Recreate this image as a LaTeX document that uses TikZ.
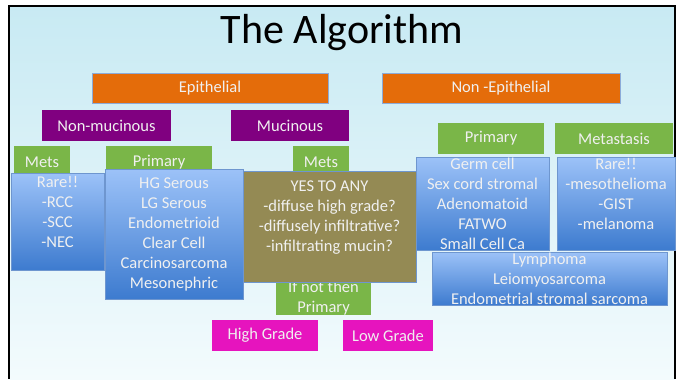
\documentclass[tikz,border=0pt]{standalone}
\usepackage{fontspec}
\setmainfont{Carlito}

\definecolor{slidetop}{HTML}{C8EAF3}
\definecolor{slidebottom}{HTML}{F3FBFD}
\definecolor{boxorange}{HTML}{E46C0A}
\definecolor{boxpurple}{HTML}{800080}
\definecolor{boxgreen}{HTML}{7AB648}
\definecolor{boxolive}{HTML}{948A54}
\definecolor{boxpink}{HTML}{E614BE}
\definecolor{bluetop}{HTML}{9CC2F8}
\definecolor{bluebottom}{HTML}{3D7BCF}
\definecolor{edgeblue}{HTML}{6E96CF}

\tikzset{
  box/.style={inner sep=0pt, align=center, text=white!94!black,
    font=\fontsize{16.5}{20}\selectfont},
  orangebox/.style={box, fill=boxorange, draw=edgeblue!80, line width=0.8pt},
  purplebox/.style={box, fill=boxpurple},
  greenbox/.style={box, fill=boxgreen},
  pinkbox/.style={box, fill=boxpink},
  bluebox/.style={box, top color=bluetop, bottom color=bluebottom,
    draw=edgeblue, line width=0.8pt},
  olivebox/.style={box, fill=boxolive, draw=edgeblue, line width=0.6pt},
}

\begin{document}
\begin{tikzpicture}[x=1pt,y=-1pt]
  % slide background and frame
  \fill[white] (0,0) rectangle (684,379);
  \shade[top color=slidetop, bottom color=slidebottom] (9,6) rectangle (675,379);
  \draw[line width=2.5pt] (9,379) -- (9,6) -- (675,6) -- (675,379);
  \useasboundingbox (0,0) rectangle (684,379);

  % title
  \node[anchor=base, font=\fontsize{42}{50}\selectfont] (title) at (342,43) {The Algorithm};

  % top level
  \node[orangebox, minimum width=236pt, minimum height=30pt] (epith) at (210,88) {Epithelial};
  \node[orangebox, minimum width=238pt, minimum height=30pt] (nonepith) at (501,88) {Non -Epithelial};

  % epithelial branch
  \node[purplebox, minimum width=129pt, minimum height=31pt] (nonmuc) at (106.5,125.5) {Non-mucinous};
  \node[purplebox, minimum width=118pt, minimum height=31pt] (muc) at (290,125.5) {Mucinous};
  \node[greenbox, minimum width=56pt, minimum height=32pt] (metsA) at (42,162) {Mets};
  \node[greenbox, minimum width=106pt, minimum height=32pt] (primA) at (159,162) {Primary};
  \node[greenbox, minimum width=56pt, minimum height=32pt] (metsB) at (321,162) {Mets};
  \node[greenbox, minimum width=95pt, minimum height=30pt] (ifnot) at (323.5,298) {If not then\\Primary};
  \node[bluebox, minimum width=93pt, minimum height=97pt] (rareA) at (57.5,221.5)
    {Rare!!\\-RCC\\-SCC\\-NEC\\\mbox{}};
  \node[bluebox, minimum width=138pt, minimum height=130pt] (primlist) at (174,234)
    {HG Serous\\LG Serous\\Endometrioid\\Clear Cell\\Carcinosarcoma\\Mesonephric};
  \node[olivebox, minimum width=173pt, minimum height=111pt] (yesbox) at (329.5,226.5)
    {YES TO ANY\\-diffuse high grade?\\-diffusely infiltrative?\\-infiltrating mucin?\\\mbox{}};
  \node[pinkbox, minimum width=106pt, minimum height=31pt] (highgr) at (265,335.5) {High Grade};
  \node[pinkbox, minimum width=90pt, minimum height=31pt] (lowgr) at (388,335.5) {Low Grade};

  % non-epithelial branch
  \node[greenbox, minimum width=106pt, minimum height=31pt] (primB) at (491,138.5) {Primary};
  \node[greenbox, minimum width=118pt, minimum height=31pt] (metast) at (614,138.5) {Metastasis};
  \node[bluebox, minimum width=133pt, minimum height=93pt] (primlistB) at (482.5,203.5)
    {Germ cell\\Sex cord stromal\\Adenomatoid\\FATWO\\Small Cell Ca};
  \node[bluebox, minimum width=118pt, minimum height=93pt] (rareB) at (616,203.5)
    {Rare!!\\-mesothelioma\\-GIST\\-melanoma\\\mbox{}};
  \node[bluebox, minimum width=235pt, minimum height=53pt] (lymph) at (549.5,278.5)
    {Lymphoma\\Leiomyosarcoma\\Endometrial stromal sarcoma};
\end{tikzpicture}
\end{document}
